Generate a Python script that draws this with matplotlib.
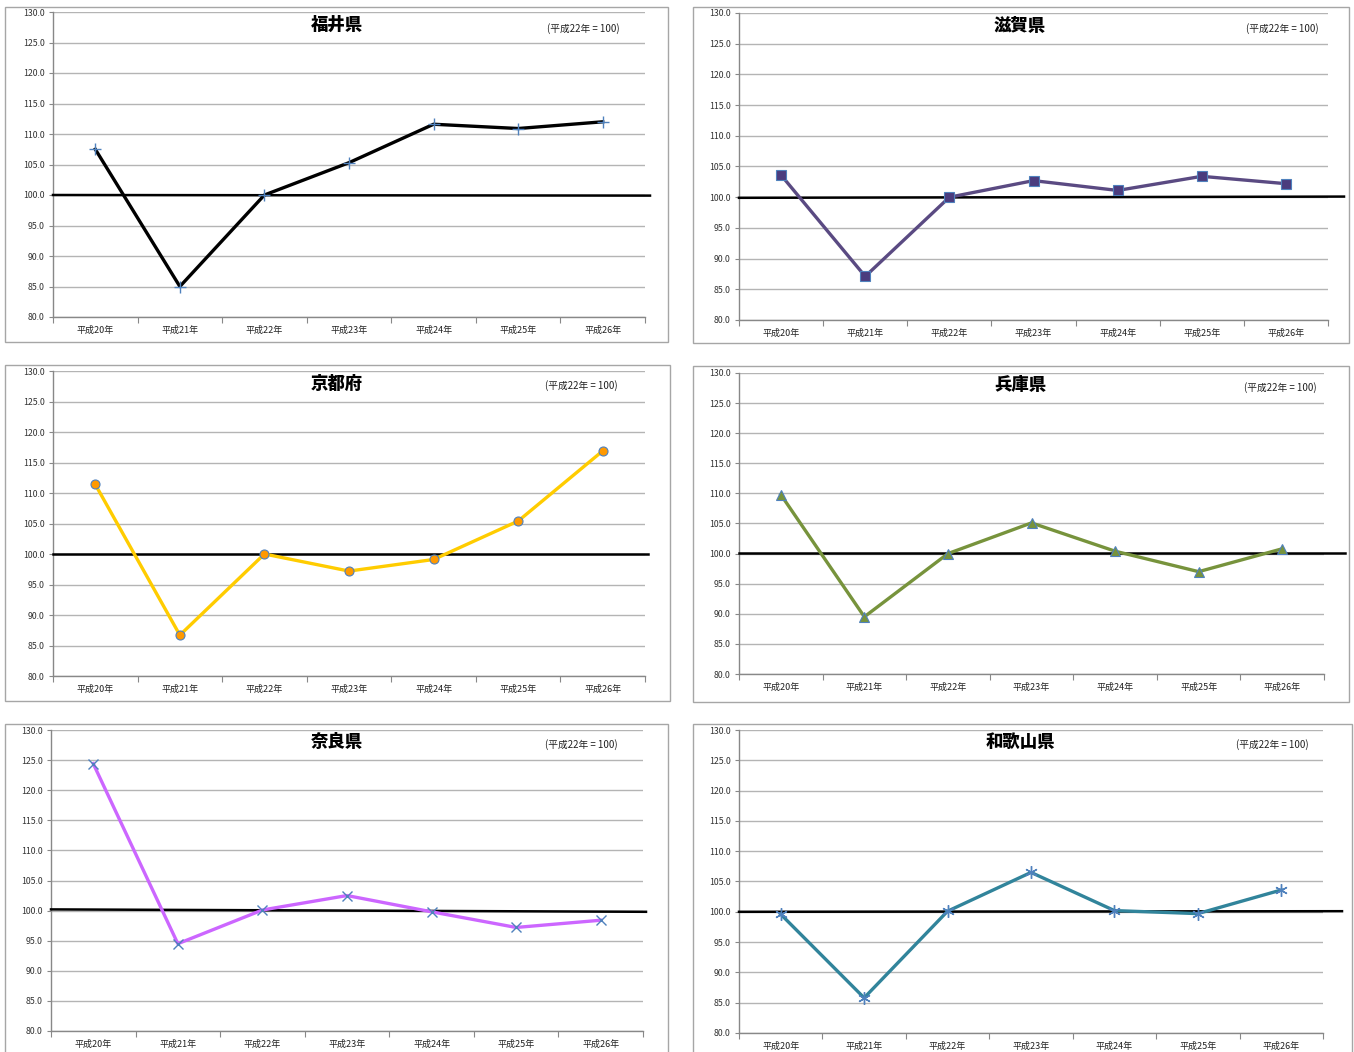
import matplotlib
matplotlib.use("Agg")
import matplotlib.pyplot as plt
from matplotlib.patches import Rectangle

plt.rcParams['font.family'] = ['Noto Sans CJK JP', 'DejaVu Sans']

years = ["平成20年", "平成21年", "平成22年", "平成23年", "平成24年", "平成25年", "平成26年"]
note = "(平成22年 = 100)"
yticks = [80.0, 85.0, 90.0, 95.0, 100.0, 105.0, 110.0, 115.0, 120.0, 125.0, 130.0]

titles = ["福井県", "滋賀県", "京都府", "兵庫県", "奈良県", "和歌山県"]
fukui = [107.5, 85.0, 100.0, 105.3, 111.6, 110.9, 112.0]
shiga = [103.6, 87.1, 100.0, 102.7, 101.1, 103.4, 102.2]
kyoto = [111.4, 86.7, 100.0, 97.2, 99.1, 105.4, 116.9]
hyogo = [109.8, 89.5, 100.0, 105.1, 100.4, 97.0, 100.8]
nara = [124.4, 94.5, 100.1, 102.5, 99.8, 97.2, 98.4]
wakayama = [99.6, 85.8, 100.1, 106.5, 100.2, 99.7, 103.6]
series = [fukui, shiga, kyoto, hyogo, nara, wakayama]
# reference line (base 100) values at left / right end as drawn
ref_left = [100.0, 99.9, 100.0, 100.1, 100.2, 100.0]
ref_right = [99.9, 100.1, 100.0, 100.1, 99.8, 100.1]

W, H = 1354, 1052
fig = plt.figure(figsize=(W / 100, H / 100), dpi=100)

# pixel layouts: axes (l, t, r, b), border (l, t, r, b), title (x, y), note (x, y), ref line right end px
layouts = [
    dict(ax=(53, 12, 645, 317), bd=(5, 7, 668, 342), tt=(337, 25), nt=(583, 29), rr=650),
    dict(ax=(739, 13, 1328, 320), bd=(693, 7, 1349, 343), tt=(1020, 26), nt=(1282, 29), rr=1344),
    dict(ax=(53, 371, 645, 676), bd=(5, 365, 670, 701), tt=(337, 384), nt=(581, 386), rr=648),
    dict(ax=(739, 373, 1324, 674), bd=(693, 366, 1349, 702), tt=(1020, 385), nt=(1280, 388), rr=1345),
    dict(ax=(51, 730, 643, 1031), bd=(5, 724, 668, 1060), tt=(337, 742), nt=(581, 745), rr=646),
    dict(ax=(739, 730, 1323, 1033), bd=(693, 724, 1352, 1060), tt=(1020, 742), nt=(1272, 745), rr=1342),
]

styles = [
    dict(color="#000000", marker="+", ms=9, mfc="#4F81BD", mec="#4F81BD", mew=1.0),
    dict(color="#5A4A82", marker="s", ms=6.5, mfc="#4B3C7E", mec="#4F81BD", mew=0.8),
    dict(color="#FFCC00", marker="o", ms=6.5, mfc="#FF9900", mec="#4F81BD", mew=0.8),
    dict(color="#77933C", marker="^", ms=7, mfc="#77933C", mec="#4F81BD", mew=0.8),
    dict(color="#CC66FF", marker="x", ms=7, mfc="#4F81BD", mec="#4F81BD", mew=1.0),
    dict(color="#31849B", marker=(6, 2, 0), ms=9, mfc="#4F81BD", mec="#4F81BD", mew=1.0),
]

def fx(px):
    return px / W

def fy(py):
    return 1 - py / H

for i in range(6):
    L = layouts[i]
    bl, bt, br, bb = L["bd"]
    fig.patches.append(Rectangle((fx(bl), fy(bb)), fx(br - bl), (bb - bt) / H,
                                 transform=fig.transFigure, fill=False,
                                 edgecolor="#A6A6A6", linewidth=1.0))
    l, t, r, b = L["ax"]
    ax = fig.add_axes([fx(l), fy(b), fx(r - l), (b - t) / H])
    x = list(range(len(years)))
    ax.set_xlim(-0.5, len(years) - 0.5)
    ax.set_ylim(80, 130)
    ax.set_yticks(yticks)
    ax.set_yticklabels([f"{v:.1f}" for v in yticks], fontsize=6.3, color="#333333")
    ax.yaxis.grid(True, color="#B4B4B4", linewidth=1.0)
    ax.set_axisbelow(True)
    ax.set_xticks([k + 0.5 for k in range(-1, len(years))], minor=False)
    ax.set_xticklabels([])
    ax.set_xticks(x, minor=True)
    ax.set_xticklabels(years, minor=True, fontsize=6.5, color="#222222")
    ax.tick_params(axis="x", which="minor", length=0, pad=6)
    ax.tick_params(axis="x", which="major", length=4, color="#888888", direction="out")
    ax.tick_params(axis="y", length=3, color="#888888", pad=3)
    for s in ["top", "right"]:
        ax.spines[s].set_visible(False)
    for s in ["left", "bottom"]:
        ax.spines[s].set_color("#888888")
        ax.spines[s].set_linewidth(1.0)

    # reference line extending beyond right edge
    xr = -0.5 + (L["rr"] - l) / ((r - l) / len(years))
    ax.plot([-0.5, xr], [ref_left[i], ref_right[i]], color="#000000", lw=1.8,
            clip_on=False, zorder=3)

    st = styles[i]
    ax.plot(x, series[i], color=st["color"], lw=2.4, zorder=4, solid_joinstyle="round")
    ax.plot(x, series[i], linestyle="none", marker=st["marker"], ms=st["ms"],
            markerfacecolor=st["mfc"], markeredgecolor=st["mec"], markeredgewidth=st["mew"],
            zorder=5, clip_on=False)

    fig.text(fx(L["tt"][0]), fy(L["tt"][1]), titles[i], fontsize=12.5, fontweight="heavy",
             ha="center", va="center", color="#000000")
    fig.text(fx(L["nt"][0]), fy(L["nt"][1]), note, fontsize=7, ha="center", va="center",
             color="#222222")

fig.savefig("out.png", dpi=100, facecolor="white")
